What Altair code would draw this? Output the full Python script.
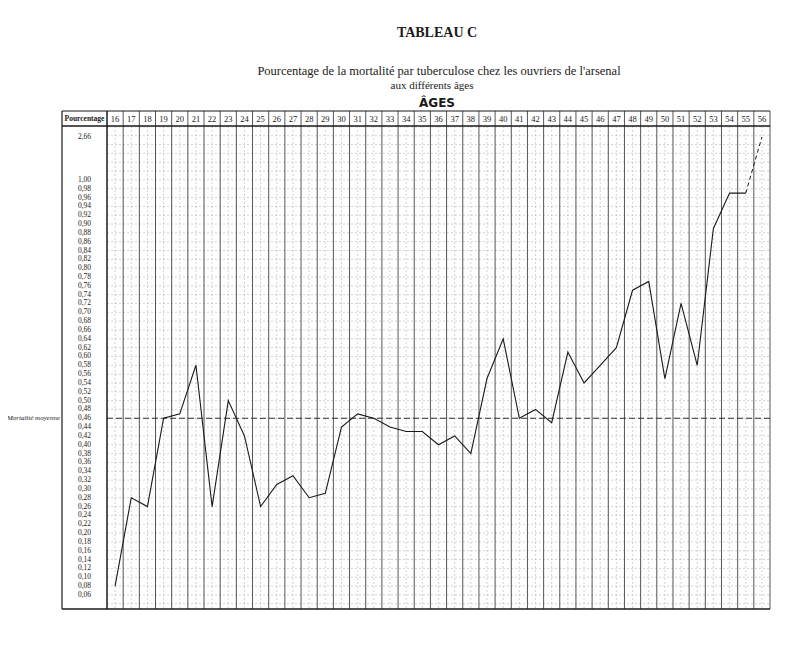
import altair as alt
import pandas as pd

# ---------------- data ----------------
ages = list(range(16, 57))
mortality = [0.08, 0.28, 0.26, 0.46, 0.47, 0.58, 0.26, 0.50, 0.42, 0.26,
             0.31, 0.33, 0.28, 0.29, 0.44, 0.47, 0.46, 0.44, 0.43, 0.43,
             0.40, 0.42, 0.38, 0.55, 0.64, 0.46, 0.48, 0.45, 0.61, 0.54,
             0.58, 0.62, 0.75, 0.77, 0.55, 0.72, 0.58, 0.89, 0.97, 0.97, 2.66]
mean_mortality = 0.46

y_tick_values = [0.06, 0.08, 0.10, 0.12, 0.14, 0.16, 0.18, 0.20, 0.22, 0.24,
                 0.26, 0.28, 0.30, 0.32, 0.34, 0.36, 0.38, 0.40, 0.42, 0.44,
                 0.46, 0.48, 0.50, 0.52, 0.54, 0.56, 0.58, 0.60, 0.62, 0.64,
                 0.66, 0.68, 0.70, 0.72, 0.74, 0.76, 0.78, 0.80, 0.82, 0.84,
                 0.86, 0.88, 0.90, 0.92, 0.94, 0.96, 0.98, 1.00, 2.66]
y_tick_labels = ["0,06", "0,08", "0,10", "0,12", "0,14", "0,16", "0,18", "0,20", "0,22", "0,24",
                 "0,26", "0,28", "0,30", "0,32", "0,34", "0,36", "0,38", "0,40", "0,42", "0,44",
                 "0,46", "0,48", "0,50", "0,52", "0,54", "0,56", "0,58", "0,60", "0,62", "0,64",
                 "0,66", "0,68", "0,70", "0,72", "0,74", "0,76", "0,78", "0,80", "0,82", "0,84",
                 "0,86", "0,88", "0,90", "0,92", "0,94", "0,96", "0,98", "1,00", "2,66"]

title_text = "TABLEAU C"
subtitle_1 = "Pourcentage de la mortalité par tuberculose chez les ouvriers de l'arsenal"
subtitle_2 = "aux différents âges"
ages_header = "ÂGES"
column_header = "Pourcentage"
mean_label = "Mortalité moyenne"

# ---------------- layout ----------------
W, H = 663, 483
HDR = -15           # top of the header row (px, relative to plot top)
LCOL = -45          # left edge of the label column
ROW = 8.83          # pixel height of a 0.02 row
y_low = 0.028
p_one = H - (1.00 - y_low) / 0.02 * ROW
p_top_val = 11
y_high = 2.66 + p_top_val / (p_one - p_top_val) * (2.66 - 1.00)

SERIF = "Liberation Serif"
INK = "#1a1a1a"

x_scale = alt.Scale(domain=[15.5, 56.5], range=[0, W], nice=False, zero=False)
y_scale = alt.Scale(domain=[y_low, 1.00, 2.66, y_high], range=[H, p_one, p_top_val, 0],
                    nice=False, zero=False)

X = lambda f: alt.X(f, type="quantitative", scale=x_scale, axis=None)
Y = lambda f: alt.Y(f, type="quantitative", scale=y_scale, axis=None)

df = pd.DataFrame({"age": ages, "value": mortality})
df_solid = df[df["age"] <= 55]
df_dash = df[df["age"] >= 55]

# grid helpers (style only)
bounds = pd.DataFrame({"b": [a - 0.5 for a in ages] + [ages[-1] + 0.5]})
centers = pd.DataFrame({"c": ages})
top_step = (2.66 - 1.00) / ((p_one - p_top_val) / ROW)
grid_vals = [round(0.04 + 0.02 * k, 2) for k in range(49)] + [1.00 + top_step * k for k in range(1, 7)]
grid_df = pd.DataFrame({"g": grid_vals})

one = pd.DataFrame({"k": [0]})

h_grid = alt.Chart(grid_df).mark_rule(color="#b5b5b5", strokeWidth=0.6, strokeDash=[2, 2]).encode(
    y=Y("g"), x=alt.value(0), x2=alt.value(W))
v_center = alt.Chart(centers).mark_rule(color="#b5b5b5", strokeWidth=0.6, strokeDash=[2, 2]).encode(
    x=X("c"), y=alt.value(0), y2=alt.value(H))
v_heavy = alt.Chart(bounds).mark_rule(color="#555555", strokeWidth=1).encode(
    x=X("b"), y=alt.value(HDR), y2=alt.value(H))

frame_left = alt.Chart(one).mark_rule(color=INK, strokeWidth=1.2).encode(
    x=alt.value(LCOL), y=alt.value(HDR), y2=alt.value(H))
frame_top = alt.Chart(one).mark_rule(color=INK, strokeWidth=1.2).encode(
    x=alt.value(LCOL), x2=alt.value(W), y=alt.value(HDR))
frame_hdr = alt.Chart(one).mark_rule(color=INK, strokeWidth=1.4).encode(
    x=alt.value(LCOL), x2=alt.value(W), y=alt.value(0))
frame_bot = alt.Chart(one).mark_rule(color=INK, strokeWidth=1.4).encode(
    x=alt.value(LCOL), x2=alt.value(W), y=alt.value(H))
frame_plot_left = alt.Chart(one).mark_rule(color=INK, strokeWidth=1.2).encode(
    x=alt.value(0), y=alt.value(HDR), y2=alt.value(H))

mean_line = alt.Chart(pd.DataFrame({"m": [mean_mortality]})).mark_rule(
    color="#333333", strokeWidth=1.1, strokeDash=[6, 3]).encode(
    y=Y("m"), x=alt.value(0), x2=alt.value(W))

line_solid = alt.Chart(df_solid).mark_line(color=INK, strokeWidth=1.1).encode(
    x=X("age"), y=Y("value"))
line_dash = alt.Chart(df_dash).mark_line(color=INK, strokeWidth=1, strokeDash=[4, 3]).encode(
    x=X("age"), y=Y("value"))

age_labels = alt.Chart(centers).mark_text(font=SERIF, fontSize=8.5, color=INK,
                                          baseline="middle").encode(
    x=X("c"), y=alt.value(HDR / 2), text=alt.Text("c:Q"))

tick_df = pd.DataFrame({"v": y_tick_values, "lab": y_tick_labels})
y_labels = alt.Chart(tick_df).mark_text(font=SERIF, fontSize=7.5, color=INK, baseline="middle",
                                        align="center").encode(
    y=Y("v"), x=alt.value(LCOL / 2), text="lab:N")

col_header = alt.Chart(pd.DataFrame({"t": [column_header]})).mark_text(
    font=SERIF, fontSize=7.5, fontWeight="bold", color=INK, baseline="middle", align="center").encode(
    x=alt.value(LCOL / 2), y=alt.value(HDR / 2), text="t:N")

mean_text = alt.Chart(pd.DataFrame({"m": [mean_mortality], "t": [mean_label]})).mark_text(
    font=SERIF, fontSize=7, fontStyle="italic", color=INK, baseline="middle", align="right").encode(
    y=Y("m"), x=alt.value(LCOL - 2), text="t:N")

title = alt.Chart(pd.DataFrame({"t": [title_text]})).mark_text(
    font=SERIF, fontSize=14, fontWeight="bold", color=INK, baseline="middle").encode(
    x=alt.value(330), y=alt.value(-93), text="t:N")
sub1 = alt.Chart(pd.DataFrame({"t": [subtitle_1]})).mark_text(
    font=SERIF, fontSize=12.5, color=INK, baseline="middle").encode(
    x=alt.value(332), y=alt.value(-55), text="t:N")
sub2 = alt.Chart(pd.DataFrame({"t": [subtitle_2]})).mark_text(
    font=SERIF, fontSize=11, color=INK, baseline="middle").encode(
    x=alt.value(325), y=alt.value(-40), text="t:N")
ages_t = alt.Chart(pd.DataFrame({"t": [ages_header]})).mark_text(
    font="DejaVu Sans", fontSize=12, fontWeight="bold", color=INK, baseline="middle").encode(
    x=alt.value(330), y=alt.value(-23), text="t:N")

chart = alt.layer(
    h_grid, v_center, v_heavy, mean_line,
    frame_left, frame_top, frame_hdr, frame_bot, frame_plot_left,
    line_solid, line_dash,
    age_labels, y_labels, col_header, mean_text,
    title, sub1, sub2, ages_t,
).properties(
    width=W, height=H,
    padding={"left": 99, "top": 118, "right": 22, "bottom": 30},
    autosize=alt.AutoSizeParams(type="none"),
    background="white",
).configure_view(strokeWidth=0)

chart.save("out.html", embed_options={"renderer": "svg", "actions": False})
